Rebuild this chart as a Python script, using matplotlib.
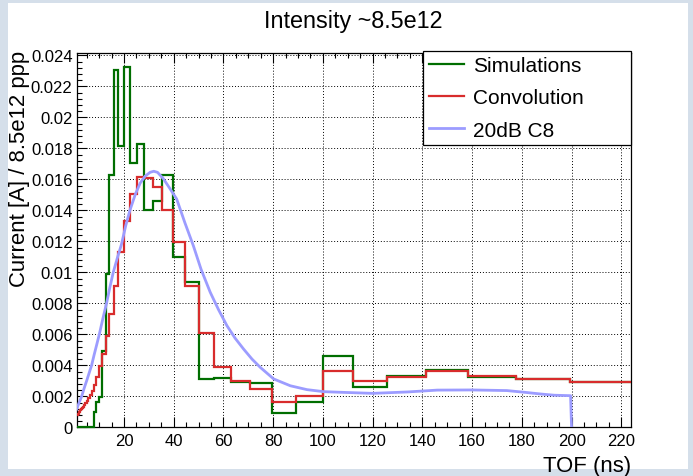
import matplotlib
matplotlib.use("Agg")
import matplotlib.pyplot as plt
from matplotlib.patches import Rectangle
from matplotlib.ticker import MultipleLocator, FuncFormatter

plt.rcParams['font.family'] = ['Liberation Sans', 'DejaVu Sans']

# ─── DATA ─────────────────────────────────────────────────────────────────────
# TOF bin edges (ns), 20 bins per decade
BIN_EDGES = [1.000, 1.122, 1.259, 1.413, 1.585, 1.778, 1.995, 2.239, 2.512, 2.818,
             3.162, 3.548, 3.981, 4.467, 5.012, 5.623, 6.310, 7.079, 7.943, 8.913,
             10.00, 11.22, 12.59, 14.13, 15.85, 17.78, 19.95, 22.39, 25.12, 28.18,
             31.62, 35.48, 39.81, 44.67, 50.12, 56.23, 63.10, 70.79, 79.43, 89.13,
             100.0, 112.2, 125.9, 141.3, 158.5, 177.8, 199.5, 223.9]

SIMULATIONS = [0, 0, 0, 0, 0, 0, 0, 0, 0, 0, 0, 0, 0, 0, 0, 0, 0, 0,
               0.00097, 0.00161, 0.00198, 0.00494, 0.00989, 0.01628, 0.02307,
               0.01817, 0.02323, 0.01705, 0.01828, 0.01404, 0.01462, 0.01628,
               0.01097, 0.00940, 0.00312, 0.00318, 0.00293, 0.00288, 0.00092,
               0.00161, 0.00462, 0.00258, 0.00333, 0.00372, 0.00327, 0.00312,
               0.00294]

CONVOLUTION = [0.00072, 0.00076, 0.00080, 0.00084, 0.00088, 0.00093, 0.00099,
               0.00105, 0.00111, 0.00118, 0.00125, 0.00134, 0.00145, 0.00157,
               0.00171, 0.00188, 0.00207, 0.00235, 0.00270, 0.00323, 0.00397,
               0.00473, 0.00591, 0.00731, 0.00914, 0.01129, 0.01333, 0.01505,
               0.01615, 0.01610, 0.01548, 0.01404, 0.01198, 0.00914, 0.00608,
               0.00391, 0.00300, 0.00247, 0.00161, 0.00200, 0.00365, 0.00297,
               0.00327, 0.00365, 0.00333, 0.00312, 0.00294]

# measured pickup signal (20dB attenuator, channel C8)
C8_TIME = [1, 2, 3, 4, 5, 6, 7, 8, 9, 10.1, 11.5, 13, 14.3, 15.7, 17.3, 19,
           20.7, 22.4, 24.5, 26.5, 28.5, 30.5, 32, 33.5, 35.8, 38.5, 41.2,
           44.5, 47.9, 51, 54.7, 58, 61.4, 64.7, 68.1, 71.5, 74.8, 80.2, 86.9,
           93.6, 100.3, 107, 120, 134, 146, 160, 174, 181, 187.5, 193, 199.6,
           200]
C8_CURRENT = [0.00118, 0.00160, 0.00200, 0.00252, 0.00300, 0.00350, 0.00400,
              0.00467, 0.00530, 0.00600, 0.00700, 0.00800, 0.00900, 0.01000,
              0.01090, 0.01180, 0.01300, 0.01400, 0.01500, 0.01575, 0.01620,
              0.01645, 0.01652, 0.01645, 0.01605, 0.01540, 0.01473, 0.01320,
              0.01172, 0.01020, 0.00871, 0.00760, 0.00656, 0.00575, 0.00505,
              0.00440, 0.00387, 0.00312, 0.00268, 0.00243, 0.00230, 0.00226,
              0.00219, 0.00228, 0.00240, 0.00241, 0.00237, 0.00226, 0.00215,
              0.00207, 0.00204, 0.0]

W, H = 693, 477

fig = plt.figure(figsize=(W / 100, H / 100), dpi=100)
fig.patch.set_facecolor("#d5dfea")
# white canvas inside the window frame
fig.patches.append(Rectangle((8 / W, 7 / H), 680 / W, 466 / H,
                             transform=fig.transFigure, facecolor="white",
                             edgecolor="none", zorder=-5))

ax = fig.add_axes([76.7 / W, 48.7 / H, 554.3 / W, 374.3 / H])
ax.set_facecolor("white")

ax.stairs(SIMULATIONS, BIN_EDGES, baseline=None, color="#006e00", lw=1.6,
          label="Simulations", zorder=3, clip_on=False)
ax.stairs(CONVOLUTION, BIN_EDGES, baseline=None, color="#d82c2c", lw=1.6,
          label="Convolution", zorder=4)
ax.plot(C8_TIME, C8_CURRENT, color="#9c9cff", lw=2.0, label="20dB C8",
        zorder=5, solid_joinstyle="round")

ax.set_xlim(1, 223.9)
ax.set_ylim(0, 0.02415)

ax.xaxis.set_major_locator(MultipleLocator(20))
ax.xaxis.set_minor_locator(MultipleLocator(5))
ax.yaxis.set_major_locator(MultipleLocator(0.002))
ax.yaxis.set_minor_locator(MultipleLocator(0.0004))
ax.yaxis.set_major_formatter(FuncFormatter(lambda v, p: "%g" % round(v, 4)))

ax.tick_params(which="both", direction="in", top=True, right=False,
               labelsize=12, width=0.8)
ax.tick_params(which="major", length=7)
ax.tick_params(which="minor", length=3.5)
ax.tick_params(axis="x", pad=4)
ax.tick_params(axis="y", pad=3)

ax.grid(True, which="major", color="black", linestyle=(0, (1, 2)), lw=0.7)
ax.set_axisbelow(True)
for s in ax.spines.values():
    s.set_linewidth(0.9)

fig.text(353 / W, 1 - 28 / H, "Intensity ~8.5e12", ha="center",
         va="baseline", fontsize=16.8)
fig.text(631 / W, 1 - 472 / H, "TOF (ns)", ha="right", va="baseline",
         fontsize=15.9)
fig.text(20 / W, 1 - 51 / H, "Current [A] / 8.5e12 ppp", rotation=90,
         ha="center", va="top", fontsize=15.9)

leg = ax.legend(loc="upper left", mode="expand",
                bbox_to_anchor=(423.3 / W, 1 - 145 / H, 207.4 / W, 93.3 / H),
                bbox_transform=fig.transFigure, borderaxespad=0,
                fontsize=15, fancybox=False, framealpha=1, edgecolor="black",
                handlelength=1.7, handletextpad=0.45, labelspacing=0.64,
                borderpad=0.25)
leg.get_frame().set_linewidth(0.9)
leg.set_zorder(10)

fig.savefig("out.png", dpi=100, facecolor=fig.get_facecolor())
